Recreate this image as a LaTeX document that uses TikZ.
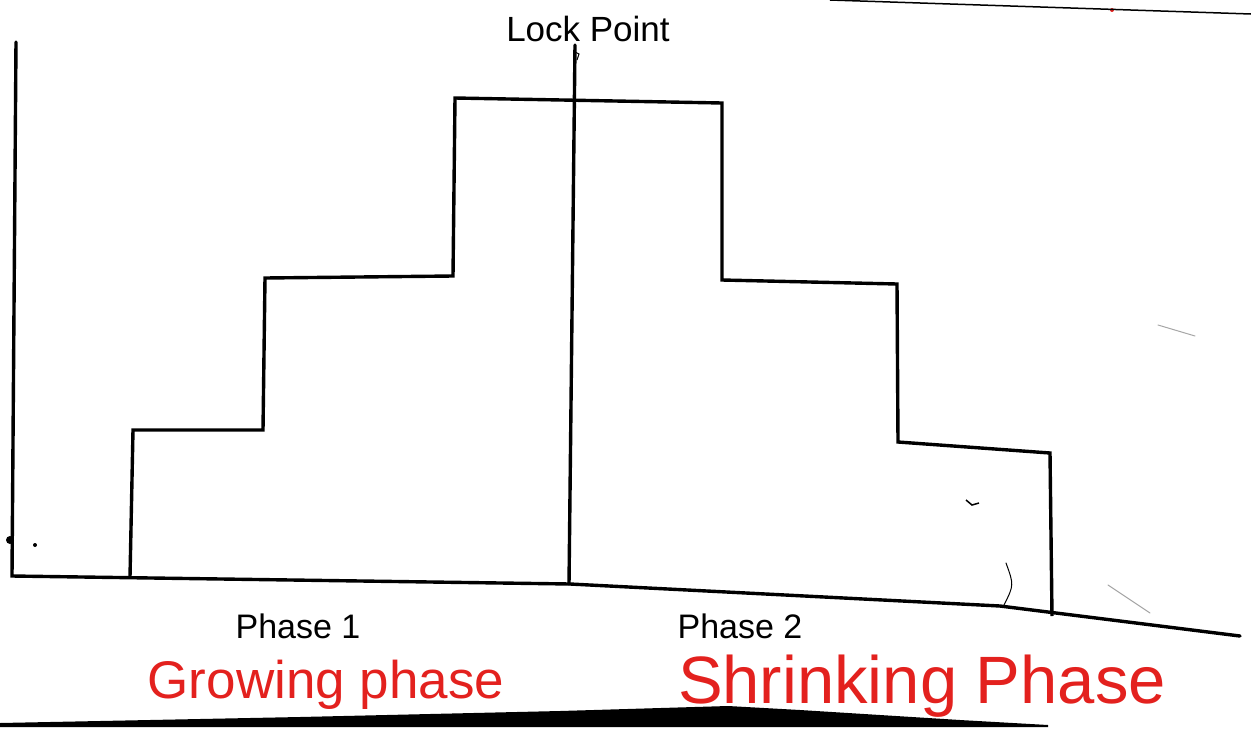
\documentclass[tikz,border=0pt]{standalone}
\usepackage{fontspec}
\setmainfont{Liberation Sans}
\definecolor{penred}{HTML}{E3211E}

\begin{document}
\begin{tikzpicture}[
        x=1pt, y=-1pt,
        axis/.style={line width=3.4pt, line cap=round},
        stairs/.style={line width=3.4pt, line join=miter},
        pentext/.style={anchor=base, inner sep=0pt, text=black},
        redtext/.style={anchor=base, inner sep=0pt, text=penred},
        speck/.style={black!35, line width=1pt, line cap=round}
    ]

    \useasboundingbox (0,0) rectangle (1251,742);

    % axes
    \coordinate (ytop) at (16,42);
    \coordinate (origin) at (12,576);
    \coordinate (xmid) at (570,584);
    \coordinate (xend) at (1240,636);
    \draw[axis] (ytop) -- (origin) -- (xmid) -- (1000,606) -- (xend);

    % lock point line
    \coordinate (locktop) at (575,45);
    \coordinate (lockfoot) at (569,584);
    \draw[axis] (locktop) -- (lockfoot);
    \draw[line width=1pt] (575,52) -- (579,54) -- (577,60);

    % number of locks held
    \draw[stairs] (130,577) -- (133,430) -- (263,430) -- (265,278)
        -- (453,276) -- (455,98) -- (722,103) -- (722,280)
        -- (897,284) -- (898,442) -- (1050,453) -- (1052,616);

    % labels
    \node[pentext, font=\fontsize{35}{38}\selectfont] (lock) at (588,41) {Lock Point};
    \node[pentext, font=\fontsize{34}{38}\selectfont] (phase1) at (298,638) {Phase 1};
    \node[pentext, font=\fontsize{34}{38}\selectfont] (phase2) at (740,638) {Phase 2};
    \node[redtext, font=\fontsize{53}{58}\selectfont] (grow) at (326,698) {Growing phase};
    \node[redtext, font=\fontsize{67}{72}\selectfont] (shrink) at (922,703) {Shrinking Phase};

    % marks on the paper
    \fill (10,540) circle (4pt);
    \fill (35,545) circle (2pt);
    \draw[line width=1.5pt] (966,500) -- (972,505) -- (979,503);
    \draw[line width=1pt, line cap=round] (1006,563) .. controls (1014,585) .. (1004,605);
    \draw[speck] (1158,325) -- (1195,336);
    \draw[speck] (1108,585) -- (1150,613);
    \fill[penred] (1112,10) circle (2pt);
    \draw[line width=1.5pt] (830,0) -- (1251,14);

    % shadow at the bottom edge
    \fill (0,723) -- (300,717) -- (560,711) -- (728,706) -- (800,710)
        -- (960,720) -- (1048,725) -- (1048,727) -- (0,727) -- cycle;

\end{tikzpicture}
\end{document}
